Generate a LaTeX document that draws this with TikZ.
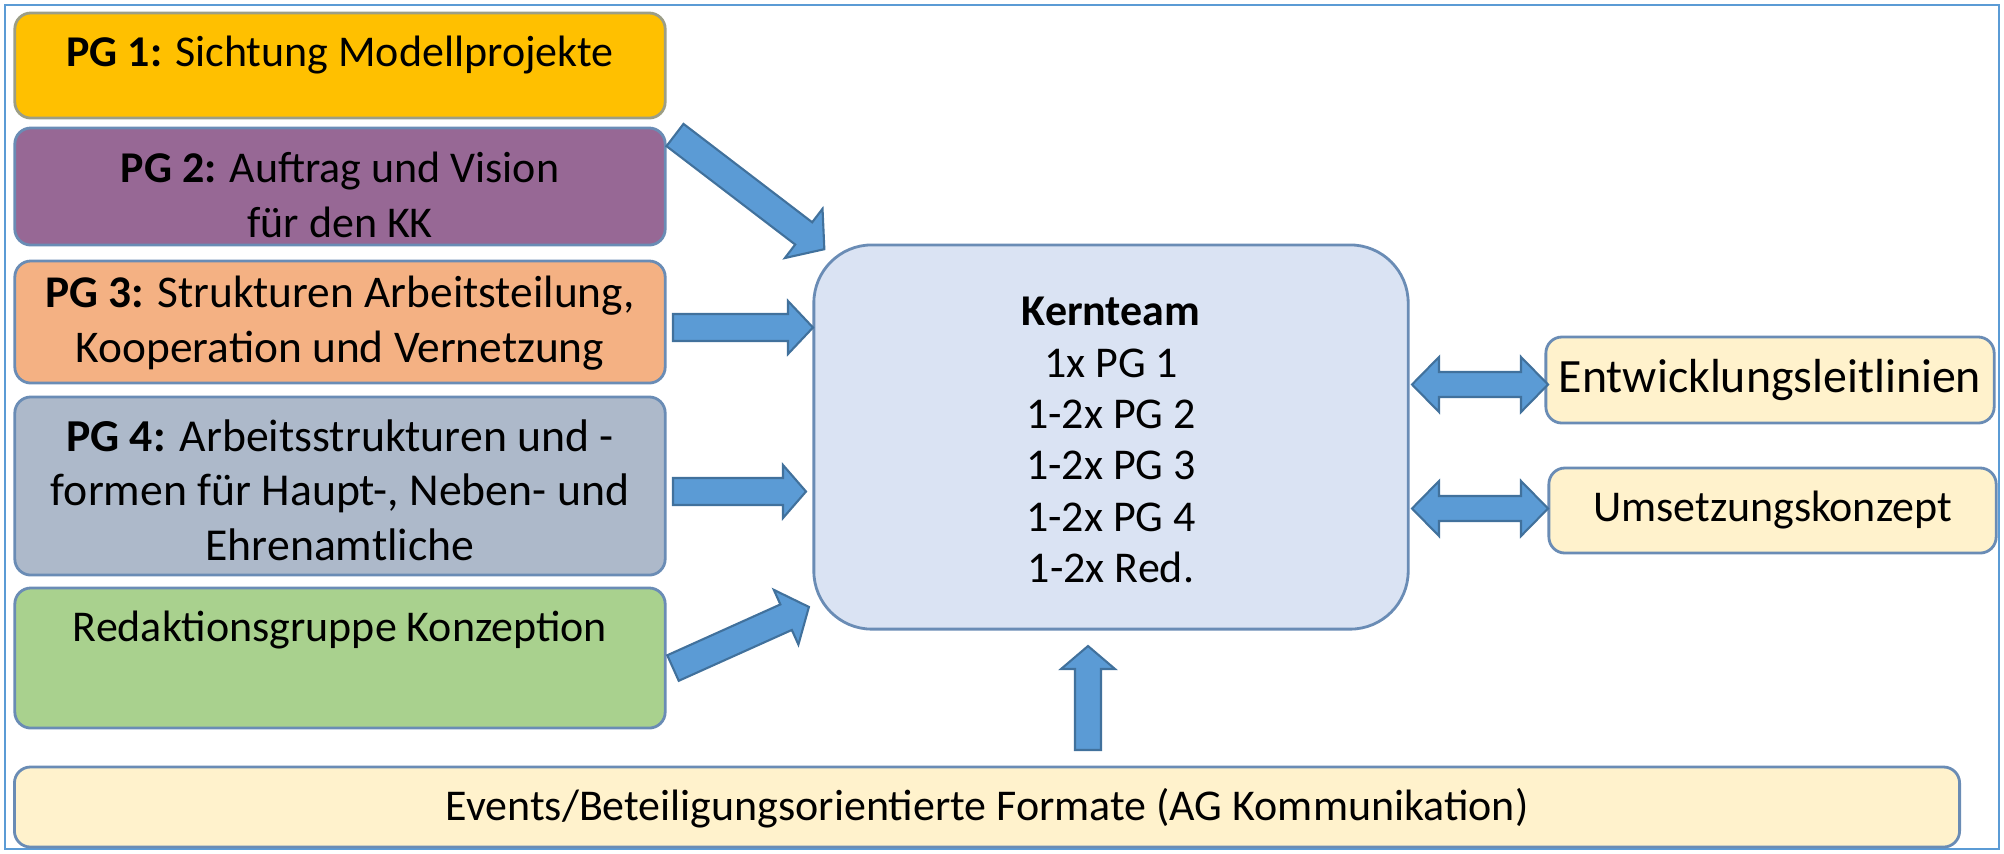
\documentclass[tikz,border=0pt]{standalone}
\usepackage{fontspec}
\setmainfont{Carlito}
\definecolor{bordc}{HTML}{6A8CB5}
\definecolor{pgone}{HTML}{FFC000}
\definecolor{pgoneb}{HTML}{9C9E86}
\definecolor{pgtwo}{HTML}{976895}
\definecolor{pgthree}{HTML}{F4B183}
\definecolor{pgfour}{HTML}{ADB9CA}
\definecolor{redg}{HTML}{A9D18E}
\definecolor{kern}{HTML}{DAE3F3}
\definecolor{yel}{HTML}{FFF2CC}
\definecolor{arrf}{HTML}{5B9BD5}
\definecolor{arrd}{HTML}{41719C}
\definecolor{frame}{HTML}{5B9BD5}
\begin{document}
\begin{tikzpicture}[x=0.01cm,y=-0.01cm,
  box/.style={draw=bordc,line width=0.8pt,rounded corners=0.16cm,inner sep=0pt},
  txt/.style={align=center,font=\fontsize{12.5}{15.5}\selectfont,inner sep=0pt,text=black},
  blk/.style={fill=arrf,draw=arrd,line width=0.6pt,line join=miter}]
\useasboundingbox (0,0) rectangle (2004,853);
\draw[frame,line width=0.8pt] (5,5) rectangle (1999,849);

% left boxes
\node[box,fill=pgone,draw=pgoneb,minimum width=6.5cm,minimum height=1.05cm] (pg1) at (340,65.5) {};
\node[txt] (pg1t) at (340,55) {\textbf{PG 1:} Sichtung Modellprojekte};
\node[box,fill=pgtwo,minimum width=6.5cm,minimum height=1.17cm] (pg2) at (340,186.5) {};
\node[txt] (pg2t) at (340,195) {\textbf{PG 2:} Auftrag und Vision\\für den KK};
\node[box,fill=pgthree,minimum width=6.5cm,minimum height=1.22cm] (pg3) at (340,322) {};
\node[txt,font=\fontsize{12.9}{15.5}\selectfont] (pg3t) at (340,323) {\textbf{PG 3:} Strukturen Arbeitsteilung,\\Kooperation und Vernetzung};
\node[box,fill=pgfour,minimum width=6.5cm,minimum height=1.78cm] (pg4) at (340,486) {};
\node[txt,font=\fontsize{13}{15.5}\selectfont] (pg4t) at (340,490) {\textbf{PG 4:} Arbeitsstrukturen und -\\formen für Haupt-, Neben- und\\Ehrenamtliche};
\node[box,fill=redg,minimum width=6.5cm,minimum height=1.40cm] (red) at (340,658) {};
\node[txt] (redt) at (340,630) {Redaktionsgruppe Konzeption};

% Kernteam
\node[box,fill=kern,rounded corners=0.58cm,minimum width=5.94cm,minimum height=3.84cm] (kern) at (1111,437) {};
\node[txt,font=\fontsize{12.5}{14.6}\selectfont] (kernt) at (1111,440) {\textbf{Kernteam}\\1x PG 1\\1-2x PG 2\\1-2x PG 3\\1-2x PG 4\\1-2x Red.};

% right boxes
\node[box,fill=yel,minimum width=4.48cm,minimum height=0.86cm] (ent) at (1770,380) {};
\node[txt,font=\fontsize{13.6}{15.5}\selectfont] (entt) at (1770,380) {Entwicklungsleitlinien};
\node[box,fill=yel,minimum width=4.47cm,minimum height=0.85cm] (ums) at (1772.5,510.5) {};
\node[txt] (umst) at (1772.5,510) {Umsetzungskonzept};

% bottom box
\node[box,fill=yel,minimum width=19.44cm,minimum height=0.80cm] (ev) at (987,807) {};
\node[txt] (evt) at (987,808) {Events/Beteiligungsorientierte Formate (AG Kommunikation)};

% arrows
\begin{scope}[shift={(675,135)},rotate=-37.4]
\draw[blk] (0,-14) -- (162,-14) -- (162,-31) -- (188,0) -- (162,31) -- (162,14) -- (0,14) -- cycle;
\end{scope}
\draw[blk] (673,314) -- (788,314) -- (788,301) -- (813,327.5) -- (788,354) -- (788,341) -- (673,341) -- cycle;
\draw[blk] (673,478) -- (783,478) -- (783,465) -- (806,491.5) -- (783,518) -- (783,505) -- (673,505) -- cycle;
\begin{scope}[shift={(673,668)},rotate=24.2]
\draw[blk] (0,-14) -- (124,-14) -- (124,-30) -- (149,0) -- (124,30) -- (124,14) -- (0,14) -- cycle;
\end{scope}
\draw[blk] (1075,750) -- (1075,669) -- (1061,669) -- (1088,646) -- (1115,669) -- (1101,669) -- (1101,750) -- cycle;
\draw[blk] (1412,384.5) -- (1439,357) -- (1439,372) -- (1521,372) -- (1521,357) -- (1548,384.5) -- (1521,412) -- (1521,397) -- (1439,397) -- (1439,412) -- cycle;
\draw[blk] (1412,508.5) -- (1439,481) -- (1439,496) -- (1521,496) -- (1521,481) -- (1548,508.5) -- (1521,536) -- (1521,521) -- (1439,521) -- (1439,536) -- cycle;
\end{tikzpicture}
\end{document}
